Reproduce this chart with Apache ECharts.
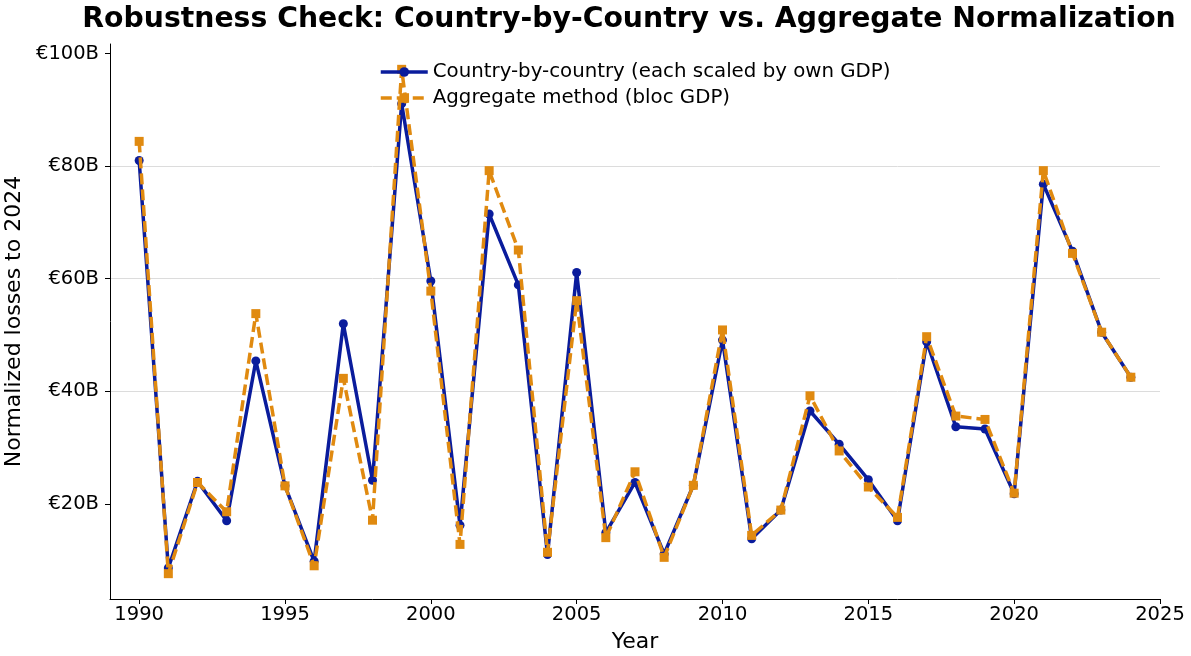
<!DOCTYPE html>
<html>
<head>
<meta charset="utf-8">
<script src="https://cdn.jsdelivr.net/npm/echarts@6/dist/echarts.min.js"></script>
<style>
  html, body { margin:0; padding:0; background:#fff; }
  #chart { width:1191px; height:656px; }
</style>
</head>
<body>
<div id="chart"></div>
<script>
// ---------- data ----------
const years = [1990,1991,1992,1993,1994,1995,1996,1997,1998,1999,2000,2001,2002,2003,2004,2005,2006,2007,2008,2009,2010,2011,2012,2013,2014,2015,2016,2017,2018,2019,2020,2021,2022,2023,2024];
const countryByCountry = [81.0,8.6,24.0,17.0,45.4,23.2,9.8,52.0,24.2,91.1,59.6,16.2,71.5,58.9,11.0,61.1,14.9,23.8,11.1,23.3,49.1,13.8,18.9,36.5,30.6,24.3,17.0,48.8,33.7,33.3,21.8,76.8,64.9,50.5,42.5];
const aggregateMethod = [84.4,7.6,23.8,18.6,53.8,23.2,9.0,42.3,17.1,97.2,57.8,12.8,79.2,65.1,11.4,56.1,14.0,25.7,10.5,23.3,50.9,14.4,18.9,39.2,29.4,23.0,17.6,49.7,35.6,35.0,21.9,79.2,64.5,50.5,42.5];
const xTicks = [1990,1995,2000,2005,2010,2015,2020,2025];
const yTicks = [20,40,60,80,100];

const BLUE = '#0a1c9c';
const ORANGE = '#e08a10';
const FONT = 'DejaVu Sans';

const pairs = vals => years.map((y,i) => [y, vals[i]]);

const chart = echarts.init(document.getElementById('chart'), null, { renderer:'canvas' });
chart.setOption({
  animation: false,
  textStyle: { fontFamily: FONT },
  title: {
    text: 'Robustness Check: Country-by-Country vs. Aggregate Normalization',
    left: 624, top: 1, textAlign: 'center',
    textStyle: { fontFamily: FONT, fontSize: 28.3, fontWeight: 'bold', color: '#000' }
  },
  legend: {
    orient: 'vertical', left: 374, top: 57,
    itemWidth: 47, itemHeight: 12, itemGap: 6,
    lineStyle: { width: 3.5 },
    textStyle: { fontFamily: FONT, fontSize: 19.8, color: '#000' },
    data: ['Country-by-country (each scaled by own GDP)', 'Aggregate method (bloc GDP)']
  },
  grid: { left: 110, right: 31, top: 44, bottom: 57, outerBoundsMode: 'none', containLabel: false },
  xAxis: {
    type: 'value', min: 1989, max: 2025,
    name: 'Year', nameLocation: 'middle', nameGap: 32,
    nameTextStyle: { fontFamily: FONT, fontSize: 22, color: '#000' },
    axisLine: { lineStyle: { color: '#000', width: 1 } },
    axisTick: { show: true, inside: false, length: 5, customValues: xTicks, lineStyle: { color: '#000' } },
    axisLabel: { customValues: xTicks, fontFamily: FONT, fontSize: 19.5, color: '#000', margin: 6,
      formatter: v => String(Math.round(v)) },
    splitLine: { show: false }
  },
  yAxis: {
    type: 'value', min: 3.1, max: 101.7,
    name: 'Normalized losses to 2024', nameLocation: 'middle', nameGap: 83,
    nameTextStyle: { fontFamily: FONT, fontSize: 22, color: '#000' },
    axisLine: { show: true, lineStyle: { color: '#000', width: 1 } },
    axisTick: { show: true, inside: false, length: 5, customValues: yTicks, lineStyle: { color: '#000' } },
    axisLabel: { customValues: yTicks, fontFamily: FONT, fontSize: 19.5, color: '#000', margin: 11,
      formatter: v => '€' + Math.round(v) + 'B' },
    splitLine: { show: true, showMinLine: false, showMaxLine: false, lineStyle: { color: '#dcdcdc', width: 1 } }
  },
  series: [
    {
      name: 'Country-by-country (each scaled by own GDP)',
      type: 'line', data: pairs(countryByCountry),
      symbol: 'circle', symbolSize: 9,
      lineStyle: { color: BLUE, width: 3.5 },
      itemStyle: { color: BLUE },
      z: 2
    },
    {
      name: 'Aggregate method (bloc GDP)',
      type: 'line', data: pairs(aggregateMethod),
      symbol: 'rect', symbolSize: 9,
      lineStyle: { color: ORANGE, width: 3.5, type: [11, 5] },
      itemStyle: { color: ORANGE },
      z: 3
    }
  ]
});
</script>
</body>
</html>
